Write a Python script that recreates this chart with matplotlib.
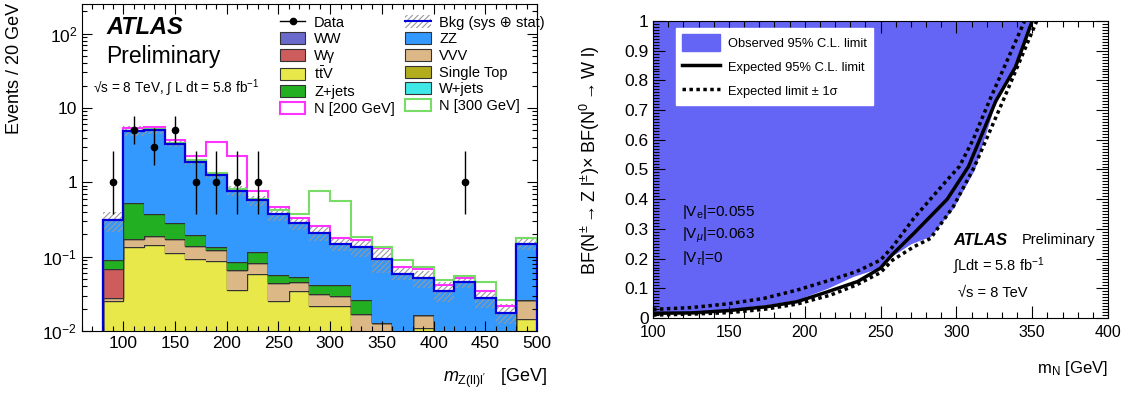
import numpy as np
import matplotlib
matplotlib.use("Agg")
import matplotlib.pyplot as plt
from matplotlib.patches import Patch
from matplotlib.lines import Line2D
from matplotlib.ticker import MultipleLocator, FixedLocator, FixedFormatter, FuncFormatter

plt.rcParams["font.family"] = ["Liberation Sans", "DejaVu Sans"]
plt.rcParams["mathtext.fontset"] = "custom"
plt.rcParams["mathtext.rm"] = "Liberation Sans"
plt.rcParams["mathtext.it"] = "Liberation Sans:italic"
plt.rcParams["mathtext.bf"] = "Liberation Sans:bold"
plt.rcParams["hatch.linewidth"] = 0.8

# ---------------- left panel data (20 GeV bins, 80-500 GeV) ----------------
edges = np.arange(80, 520, 20)
ttv = [0.025, 0.135, 0.143, 0.112, 0.092, 0.087, 0.036, 0.058, 0.025, 0.035, 0.0217,
       0.022, 0, 0, 0, 0.011, 0, 0, 0, 0, 0.0145]
vvv = [0.003, 0.04, 0.047, 0.063, 0.048, 0.035, 0.030, 0.025, 0.019, 0.011, 0.0093,
       0.008, 0.017, 0.0127, 0, 0.0054, 0, 0, 0, 0, 0.0115]
wgamma = [0.04, 0, 0, 0, 0, 0, 0, 0, 0, 0, 0, 0, 0, 0, 0, 0, 0, 0, 0, 0, 0]
zjets = [0.022, 0.345, 0.18, 0.105, 0.055, 0.011, 0.018, 0.032, 0.012, 0.008, 0.01,
         0.012, 0.0095, 0, 0, 0, 0, 0, 0, 0, 0]
zz = [0.22, 4.38, 4.73, 3.02, 1.675, 1.107, 0.686, 0.455, 0.324, 0.226, 0.169,
      0.108, 0.1085, 0.0813, 0.059, 0.0346, 0.035, 0.045, 0.0275, 0.0176, 0.121]
bkg_rel_unc = [0.3, 0.15, 0.12, 0.1, 0.1, 0.12, 0.15, 0.15, 0.2, 0.18, 0.22,
               0.2, 0.27, 0.35, 0.18, 0.25, 0.3, 0.16, 0.25, 0.3, 0.16]
n200_total = [0.31, 5.4, 5.5, 3.66, 2.25, 3.5, 2.25, 0.765, 0.47, 0.33, 0.257,
              0.18, 0.17, 0.13, 0.072, 0.068, 0.042, 0.052, 0.034, 0.022, 0.18]
n300_total = [0.31, 4.95, 5.15, 3.35, 2.0, 1.35, 0.8, 0.6, 0.42, 0.38, 0.765,
              0.556, 0.184, 0.133, 0.09, 0.073, 0.048, 0.055, 0.045, 0.026, 0.18]

data_x = [90, 110, 130, 150, 170, 190, 210, 230, 430]
data_y = [1, 5, 3, 5, 1, 1, 1, 1, 1]
data_lo = [0.62, 1.7, 1.3, 1.7, 0.62, 0.62, 0.62, 0.62, 0.62]
data_hi = [1.6, 2.9, 2.3, 2.9, 1.6, 1.6, 1.6, 1.6, 1.6]

# ---------------- right panel data ----------------
obs_m = [100, 125, 150, 175, 195, 215, 232, 250, 258, 270, 283, 298, 312, 326, 339, 349]
obs_bf = [0.02, 0.022, 0.03, 0.045, 0.062, 0.10, 0.14, 0.17, 0.21, 0.25, 0.275, 0.37,
          0.50, 0.73, 0.85, 1.0]
exp_m = [100, 125, 150, 175, 195, 215, 235, 250, 258, 272, 294, 308, 326, 339, 350]
exp_bf = [0.016, 0.017, 0.025, 0.038, 0.055, 0.088, 0.123, 0.168, 0.215, 0.285, 0.40,
          0.51, 0.73, 0.845, 1.0]
exp_lo_m = [100, 125, 150, 173, 195, 217, 234, 250, 258, 272, 294, 302, 311, 322, 345]
exp_lo_bf = [0.029, 0.035, 0.048, 0.066, 0.094, 0.128, 0.156, 0.195, 0.24, 0.336, 0.465,
             0.51, 0.60, 0.734, 1.0]
exp_hi_m = [100, 125, 150, 173, 195, 217, 234, 250, 258, 272, 283, 298, 312, 331, 353]
exp_hi_bf = [0.010, 0.013, 0.018, 0.029, 0.047, 0.077, 0.111, 0.153, 0.195, 0.24, 0.268,
             0.375, 0.51, 0.734, 1.0]

c_ww, c_wg, c_ttv, c_zj = "#6a6acd", "#cd5c5c", "#e8e84a", "#22b022"
c_zz, c_vvv, c_st, c_wj = "#3399ff", "#dcb886", "#b3ad1e", "#40e8e8"
c_n200, c_n300 = "#ff33ff", "#77dd66"
c_obs = "#6464f5"

fig = plt.figure(figsize=(11.28, 3.94), dpi=100)
ax1 = fig.add_axes([82 / 1128, 1 - 331 / 394, 455 / 1128, 327 / 394])
ax2 = fig.add_axes([653 / 1128, 1 - 318 / 394, 455 / 1128, 297 / 394])

# ---------------- left: stacked backgrounds ----------------
floor = 1e-4
bottom = np.zeros(len(zz))
for vals, col in [(ttv, c_ttv), (vvv, c_vvv), (wgamma, c_wg), (zjets, c_zj), (zz, c_zz)]:
    top = bottom + np.array(vals)
    ax1.stairs(np.maximum(top, floor), edges, baseline=np.maximum(bottom, floor),
               fill=True, color=col, lw=0)
    if col != c_zz:
        ax1.stairs(np.maximum(top, floor), edges, color="#333333", lw=1.0)
    bottom = top
total = bottom

rel = np.array(bkg_rel_unc)
ax1.stairs(total * (1 + rel), edges, baseline=total * (1 - rel), fill=True,
           facecolor="none", edgecolor="#999999", hatch="//////", lw=0)
ax1.stairs(n200_total, edges, color=c_n200, lw=1.5)
ax1.stairs(n300_total, edges, color=c_n300, lw=1.5)
ax1.stairs(total, edges, baseline=floor, color="#0000dd", lw=1.6)
ax1.errorbar(data_x, data_y, yerr=[data_lo, data_hi], fmt="o", color="black",
             ms=4.5, elinewidth=1, capsize=0)

ax1.set_yscale("log")
ax1.set_xlim(60, 500)
ax1.set_ylim(0.01, 250)
ax1.xaxis.set_major_locator(MultipleLocator(50))
ax1.xaxis.set_minor_locator(MultipleLocator(10))
ax1.yaxis.set_major_locator(FixedLocator([0.01, 0.1, 1, 10, 100]))
ax1.yaxis.set_major_formatter(FixedFormatter(["$10^{-2}$", "$10^{-1}$", "1", "10", "$10^{2}$"]))
ax1.tick_params(which="both", direction="in", top=True, right=True, labelsize=12.5)
ax1.tick_params(which="major", length=7, width=0.8)
ax1.tick_params(which="minor", length=3.5, width=0.8)

ax1.set_xlabel(r"$m_{\mathrm{Z(ll)l'}}$   [GeV]", fontsize=13, loc="right")
ax1.xaxis.set_label_coords(1.022, -0.144)
ax1.xaxis.label.set_va("center")
fig.text(15 / 1128, 1 - 3 / 394, "Events / 20 GeV", rotation=90, ha="center",
         va="top", fontsize=13)

fig.text(106 / 1128, 1 - 27 / 394, "ATLAS", fontsize=17, fontweight="bold",
         fontstyle="italic", va="center")
fig.text(106 / 1128, 1 - 57 / 394, "Preliminary", fontsize=16.5, va="center")
fig.text(93 / 1128, 1 - 88 / 394, "√s = 8 TeV, ∫ L dt = 5.8 fb$^{-1}$", fontsize=9.8,
         va="center")

h_data = Line2D([], [], color="black", marker="o", ms=4.5, lw=1)
h_bkg = (Patch(facecolor="white", edgecolor="#999999", hatch="//////", lw=0),
         Line2D([], [], color="#0000dd", lw=1.5))
h_ww = Patch(facecolor=c_ww, edgecolor="#333333", lw=0.8)
h_wg = Patch(facecolor=c_wg, edgecolor="#333333", lw=0.8)
h_ttv = Patch(facecolor=c_ttv, edgecolor="#333333", lw=0.8)
h_zj = Patch(facecolor=c_zj, edgecolor="#333333", lw=0.8)
h_n200 = Patch(facecolor="white", edgecolor=c_n200, lw=1.5)
h_zz = Patch(facecolor=c_zz, edgecolor="#333333", lw=0.8)
h_vvv = Patch(facecolor=c_vvv, edgecolor="#333333", lw=0.8)
h_st = Patch(facecolor=c_st, edgecolor="#333333", lw=0.8)
h_wj = Patch(facecolor=c_wj, edgecolor="#333333", lw=0.8)
h_n300 = Patch(facecolor="white", edgecolor=c_n300, lw=1.5)
handles = [h_data, h_ww, h_wg, h_ttv, h_zj, h_n200, h_bkg, h_zz, h_vvv, h_st, h_wj, h_n300]
labels = ["Data", "WW", "Wγ", r"t$\bar{\mathrm{t}}$V", "Z+jets", "N [200 GeV]",
          "Bkg (sys ⊕ stat)", "ZZ", "VVV", "Single Top", "W+jets", "N [300 GeV]"]
ax1.legend(handles, labels, ncol=2, loc="upper left", bbox_to_anchor=(0.435, 0.965),
           frameon=False, fontsize=10.5, handlelength=1.75, handleheight=0.9,
           handletextpad=0.6, labelspacing=0.18, columnspacing=0.7, borderpad=0,
           borderaxespad=0)

# ---------------- right: limit plot ----------------
ax2.fill_between(obs_m, obs_bf, 1.0, color=c_obs, lw=0)
ax2.plot(exp_m, exp_bf, color="black", lw=2.5)
ax2.plot(exp_lo_m, exp_lo_bf, color="black", lw=2.5, ls=(0, (1, 1)))
ax2.plot(exp_hi_m, exp_hi_bf, color="black", lw=2.5, ls=(0, (1, 1)))

ax2.set_xlim(100, 400)
ax2.set_ylim(0, 1)
ax2.xaxis.set_major_locator(MultipleLocator(50))
ax2.xaxis.set_minor_locator(MultipleLocator(10))
ax2.yaxis.set_major_locator(MultipleLocator(0.1))
ax2.yaxis.set_minor_locator(MultipleLocator(0.01))
ax2.yaxis.set_major_formatter(FuncFormatter(
    lambda v, p: "0" if abs(v) < 1e-9 else ("1" if abs(v - 1) < 1e-9 else f"{v:.1f}")))
ax2.tick_params(which="both", direction="in", top=True, right=True)
ax2.tick_params(axis="x", labelsize=11.5, pad=5)
ax2.tick_params(axis="y", labelsize=12.5, pad=3)
ax2.tick_params(which="major", length=8.5, width=0.8)
ax2.tick_params(which="minor", length=4.3, width=0.8)

ax2.set_xlabel(r"m$_{\mathrm{N}}$ [GeV]", fontsize=12, loc="right")
ax2.xaxis.set_label_coords(1.0, -0.17)
ax2.xaxis.label.set_va("center")
fig.text(590 / 1128, 1 - 160 / 394,
         r"BF(N$^{\pm}\rightarrow$Z l$^{\pm}$)$\times$ BF(N$^{0}\rightarrow$W l)",
         rotation=90, ha="center", va="center", fontsize=13)

ax2.legend([Patch(facecolor=c_obs, edgecolor=c_obs),
            Line2D([], [], color="black", lw=2.5),
            Line2D([], [], color="black", lw=2.5, ls=(0, (1, 1)))],
           ["Observed 95% C.L. limit", "Expected 95% C.L. limit", "Expected limit ± 1σ"],
           loc="upper left", bbox_to_anchor=(0.05, 0.975), fontsize=9.3,
           frameon=True, fancybox=False, edgecolor="white", framealpha=1,
           handlelength=3.0, handleheight=1.6, labelspacing=0.6, borderpad=0.45,
           handletextpad=0.6, borderaxespad=0)

fig.text(682 / 1128, 1 - 212 / 394, r"|V$_{\mathrm{e}}$|=0.055", fontsize=11, va="center")
fig.text(682 / 1128, 1 - 235 / 394, r"|V$_{\mu}$|=0.063", fontsize=11, va="center")
fig.text(682 / 1128, 1 - 258 / 394, r"|V$_{\tau}$|=0", fontsize=11, va="center")
fig.text(953 / 1128, 1 - 240 / 394, "ATLAS", fontsize=12, fontweight="bold",
         fontstyle="italic", va="center")
fig.text(1022 / 1128, 1 - 240 / 394, "Preliminary", fontsize=10.5, va="center")
fig.text(953 / 1128, 1 - 266 / 394, "∫Ldt = 5.8 fb$^{-1}$", fontsize=10.5, va="center")
fig.text(958 / 1128, 1 - 293 / 394, "√s = 8 TeV", fontsize=10.5, va="center")

fig.savefig("out.png", dpi=100)
